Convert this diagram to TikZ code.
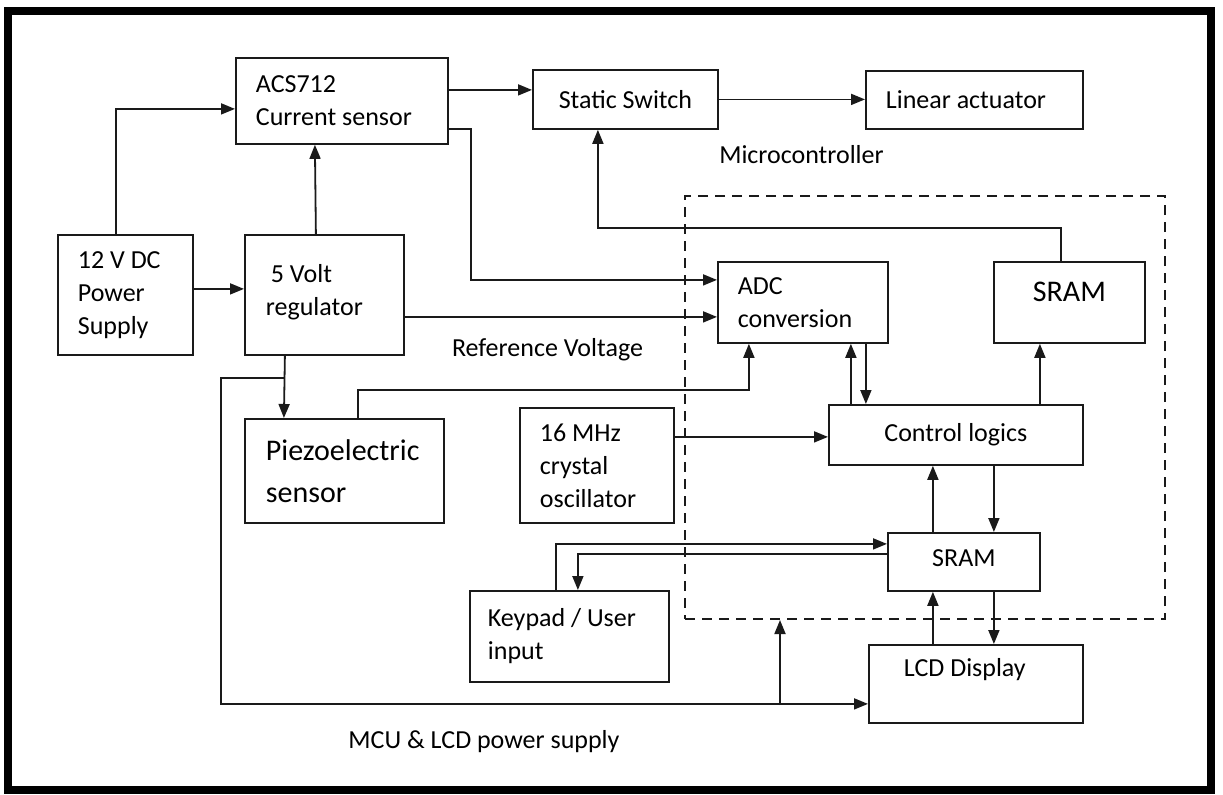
\documentclass[tikz,border=0pt]{standalone}
\usepackage{fontspec}
\setmainfont{Carlito}
\usepackage{xcolor}
\definecolor{cInk}{HTML}{1A1A1A}
\usepackage{tikz}
\usetikzlibrary{positioning,arrows.meta}
\tikzset{
  node-box/.style={draw=cInk,line width=0.9pt,rectangle,anchor=north west,
    inner xsep=10pt,font=\fontsize{13}{16.5}\selectfont},
  node-left/.style={align=flush left},
  node-label/.style={font=\fontsize{13}{16.5}\selectfont,inner sep=0pt},
  % dashed outline of the microcontroller
  mcu-frame/.style={draw=cInk,line width=1pt,dash pattern=on 5pt off 3.5pt,
    anchor=north west},
  arrow/.style={-{Triangle[length=7pt,width=5.5pt]},line width=0.9pt,draw=cInk},
  outer-frame/.style={line width=4pt,draw=black},
}

\begin{document}
\begin{tikzpicture}[x=0.5pt,y=-0.5pt]
  \useasboundingbox (0,0) rectangle (1223,794);
  \draw[outer-frame] (8,11) rectangle (1211,790);

  \node[mcu-frame,minimum width=240pt,minimum height=211.5pt] (mcu) at (684,195) {};

  \node[node-box,node-left,text width=86pt,minimum height=43pt] (acs) at (235,57) {ACS712\\Current sensor};
  \node[node-box,minimum width=92.5pt,minimum height=29.5pt] (sw) at (532,69) {Static Switch};
  \node[node-box,node-left,text width=88.5pt,minimum height=29pt] (act) at (865,70) {Linear actuator};
  \node[node-box,node-left,text width=47.5pt,minimum height=60pt] (psu) at (57,234) {12 V DC\\Power\\Supply};
  \node[node-box,node-left,text width=58.5pt,inner xsep=10.5pt,minimum height=60pt,text depth=21pt] (reg) at (244,234) {\hspace*{2.5pt}5 Volt\\regulator};
  \node[node-box,node-left,text width=65pt,minimum height=40.5pt] (adc) at (717,261) {ADC\\conversion};
  \node[node-box,minimum width=75.5pt,minimum height=40.5pt,text depth=11pt,font=\fontsize{15}{18}\selectfont] (sramA) at (993,261) {SRAM};
  \node[node-box,node-left,text width=78.5pt,inner xsep=10.5pt,minimum height=52pt,font=\fontsize{15}{21}\selectfont] (piezo) at (244,418) {Piezoelectric\\sensor};
  \node[node-box,node-left,text width=57pt,minimum height=57.5pt] (osc) at (519,407) {16 MHz\\crystal\\oscillator};
  \node[node-box,minimum width=127pt,minimum height=30pt] (ctrl) at (828,404) {Control logics};
  \node[node-box,minimum width=76pt,minimum height=29pt,text depth=4pt] (sramB) at (887,532) {SRAM};
  \node[node-box,node-left,text width=72pt,inner xsep=17.5pt,minimum height=39pt,text depth=16pt] (lcd) at (868,644) {LCD Display};
  \node[node-box,node-left,text width=81.5pt,inner xsep=9pt,minimum height=45.5pt] (key) at (469,590) {Keypad / User\\input};

  \node[node-label] (lbl-mcu) at (801.5,155) {Microcontroller};
  \node[node-label] (lbl-ref) at (547.5,350) {Reference Voltage};
  \node[node-label] (lbl-pwr) at (484,742) {MCU \& LCD power supply};

  \draw[arrow] ([xshift=-4.75pt]psu.north) |- ([yshift=-4pt]acs.west);
  \draw[arrow] ([yshift=3pt]psu.east) -- ([yshift=3pt]reg.west);
  \draw[arrow] ([xshift=-4.25pt]reg.north) -- ([xshift=-13.5pt]acs.south);
  \draw[arrow] ([yshift=5.5pt]acs.east) -- ([yshift=4.75pt]sw.west);
  \draw[arrow] (sw.east) -- (sw.east -| act.west);
  \draw[arrow] ([yshift=-14pt]acs.east) -- ++(22,0) |- ([yshift=11.25pt]adc.west);
  \draw[arrow] ([yshift=-11pt]reg.east) -- ([yshift=-7.25pt]adc.west);
  \draw[arrow] ([xshift=-19.75pt]reg.south) -- ([xshift=-30.25pt]piezo.north);
  \draw[arrow] ([xshift=-19.75pt,yshift=-11pt]reg.south) -- ++(-64,0) |- ([yshift=-10pt]lcd.west);
  \coordinate (tap) at ([xshift=-72.5pt,yshift=-42.5pt]mcu.south);
  \draw[arrow] (tap) -- (tap |- mcu.south);
  \draw[arrow] ([xshift=6.75pt]piezo.north) -- ++(0,-28) -| ([xshift=-27pt]adc.south);
  \draw[arrow] ([yshift=14.25pt]osc.east) -- ([yshift=-1pt]ctrl.west);
  \draw[arrow] ([xshift=-52.5pt]ctrl.north) -- ([xshift=24pt]adc.south);
  \draw[arrow] ([xshift=31.5pt]adc.south) -- ([xshift=-45pt]ctrl.north);
  \draw[arrow] ([xshift=42pt]ctrl.north) -- ([xshift=-14.75pt]sramA.south);
  \draw[arrow] ([xshift=-4.25pt]sramA.north) -- ++(0,-33) -| ([xshift=-13.75pt]sw.south);
  \draw[arrow] ([xshift=-15.5pt]sramB.north) -- ([xshift=-11.5pt]ctrl.south);
  \draw[arrow] ([xshift=19pt]ctrl.south) -- ([xshift=15pt]sramB.north);
  \draw[arrow] ([xshift=-21.5pt]lcd.north) -- ([xshift=-15.5pt]sramB.south);
  \draw[arrow] ([xshift=15pt]sramB.south) -- ([xshift=9pt]lcd.north);
  \draw[arrow] ([xshift=-6.75pt]key.north) |- ([yshift=9pt]sramB.west);
  \draw[arrow] ([yshift=4pt]sramB.west) -| ([xshift=4.25pt]key.north);
\end{tikzpicture}
\end{document}
